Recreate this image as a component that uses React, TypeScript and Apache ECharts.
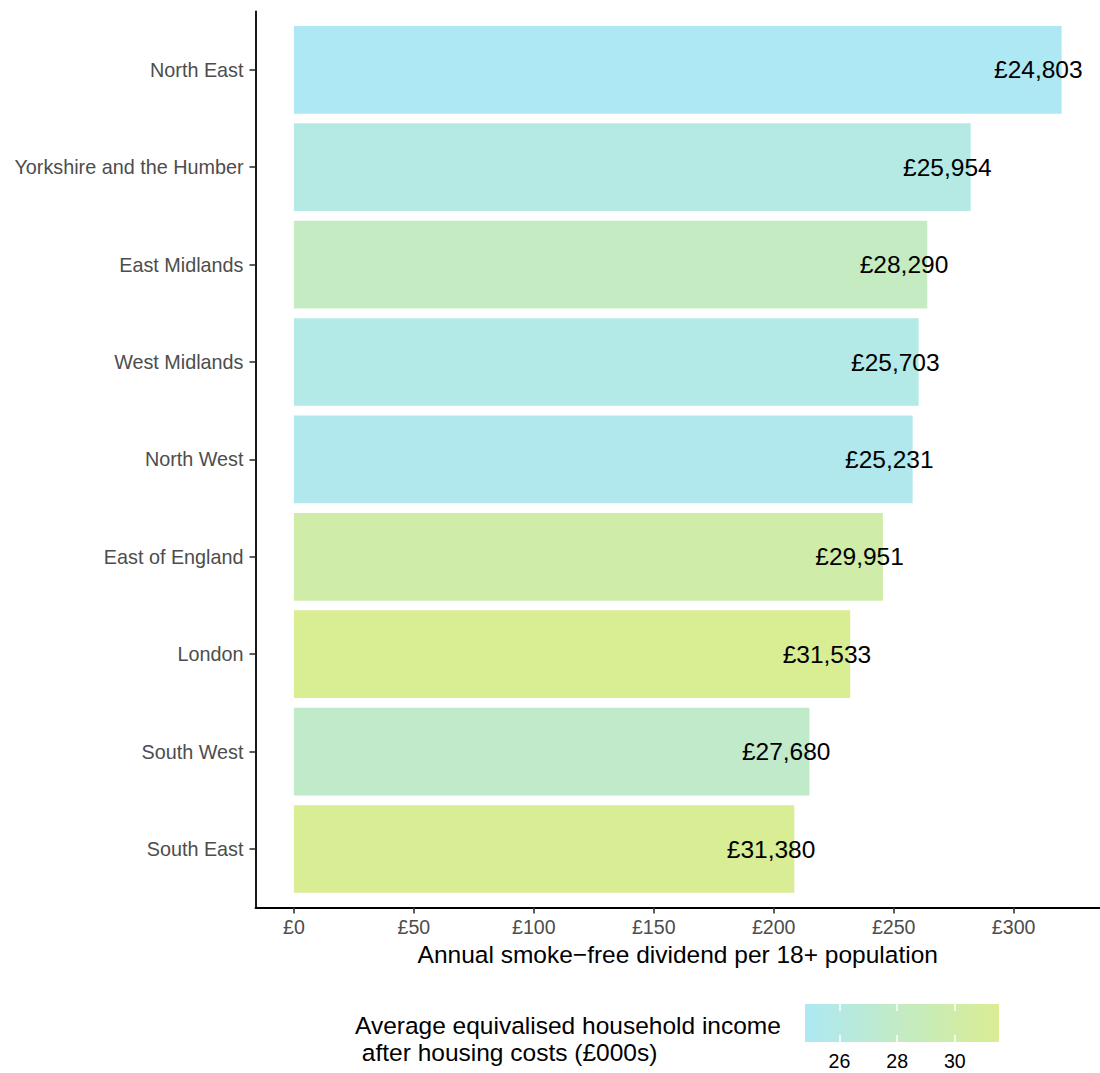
import React, { useEffect, useRef } from "react";
import * as echarts from "echarts";

const regions = [
  "North East",
  "Yorkshire and the Humber",
  "East Midlands",
  "West Midlands",
  "North West",
  "East of England",
  "London",
  "South West",
  "South East",
];
const dividend = [320.0, 282.1, 264.0, 260.4, 257.9, 245.5, 231.9, 214.9, 208.6];
const income = [24803, 25954, 28290, 25703, 25231, 29951, 31533, 27680, 31380];
const xTicks = [0, 50, 100, 150, 200, 250, 300];
const legendTicks = [26, 28, 30];
const lowColor = "#ADE8F4";
const highColor = "#D9ED92";

const FONT = "Liberation Sans, Arial, Helvetica, sans-serif";

function fmtPounds(n: number): string {
  return "£" + String(Math.round(n)).replace(/\B(?=(\d{3})+(?!\d))/g, ",");
}

export default function App() {
  const ref = useRef<HTMLDivElement>(null);
  useEffect(() => {
    if (!ref.current) return;
    const chart = echarts.init(ref.current, undefined, { renderer: "svg" });
    const incMin = Math.min(...income);
    const incMax = Math.max(...income);
    const xMin = -16;
    const xMax = 336;
    const plotLeft = 255.5;
    const plotWidth = 847.5;
    const option: any = {
      animation: false,
      textStyle: { fontFamily: FONT },
      grid: [
        { left: plotLeft, width: plotWidth, top: 21.1, height: 876.6 },
        { left: plotLeft, width: plotWidth, top: 11.4, height: 896 },
        {
          left: 805,
          width: 194,
          top: 1004,
          height: 38,
          show: true,
          borderWidth: 0,
          backgroundColor: {
            type: "linear",
            x: 0,
            y: 0,
            x2: 1,
            y2: 0,
            colorStops: [
              { offset: 0, color: lowColor },
              { offset: 1, color: highColor },
            ],
          },
        },
      ],
      xAxis: [
        { gridIndex: 0, type: "value", min: xMin, max: xMax, show: false },
        {
          gridIndex: 1,
          type: "value",
          min: xMin,
          max: xMax,
          position: "bottom",
          axisLine: { show: true, onZero: false, lineStyle: { color: "#000", width: 1.8 } },
          axisTick: {
            show: true,
            length: 6,
            customValues: xTicks,
            lineStyle: { color: "#333", width: 1.6 },
          },
          axisLabel: {
            customValues: xTicks,
            formatter: (v: number) => "£" + v,
            fontSize: 19.6,
            color: "#4D4D4D",
            margin: 10,
            fontFamily: FONT,
          },
          splitLine: { show: false },
          name: "Annual smoke\u2212free dividend per 18+ population",
          nameLocation: "middle",
          nameGap: 33,
          nameTextStyle: { fontSize: 24.5, color: "#000", fontFamily: FONT },
        },
        {
          gridIndex: 2,
          type: "value",
          min: incMin / 1000,
          max: incMax / 1000,
          position: "bottom",
          axisLine: { show: false, onZero: false },
          axisTick: {
            show: true,
            inside: true,
            length: 7,
            customValues: legendTicks,
            lineStyle: { color: "#fff", width: 1.5 },
          },
          axisLabel: {
            customValues: legendTicks,
            fontSize: 19.6,
            color: "#000",
            margin: 9,
            fontFamily: FONT,
          },
          splitLine: { show: false },
        },
        {
          gridIndex: 2,
          type: "value",
          min: incMin / 1000,
          max: incMax / 1000,
          position: "top",
          axisLine: { show: false, onZero: false },
          axisTick: {
            show: true,
            inside: true,
            length: 7,
            customValues: legendTicks,
            lineStyle: { color: "#fff", width: 1.5 },
          },
          axisLabel: { show: false },
          splitLine: { show: false },
        },
      ],
      yAxis: [
        {
          gridIndex: 0,
          type: "category",
          data: regions,
          inverse: true,
          axisLine: { show: false, onZero: false },
          axisTick: {
            show: true,
            alignWithLabel: true,
            length: 6,
            lineStyle: { color: "#333", width: 1.6 },
          },
          axisLabel: {
            fontSize: 19.8,
            color: "#4D4D4D",
            margin: 12,
            fontFamily: FONT,
          },
        },
        {
          gridIndex: 1,
          type: "value",
          min: 0,
          max: 1,
          axisLine: { show: true, onZero: false, lineStyle: { color: "#000", width: 1.8 } },
          axisTick: { show: false },
          axisLabel: { show: false },
          splitLine: { show: false },
        },
        { gridIndex: 2, type: "value", show: false, min: 0, max: 1 },
      ],
      visualMap: {
        type: "continuous",
        show: false,
        seriesIndex: 0,
        dimension: 2,
        min: incMin,
        max: incMax,
        inRange: { color: [lowColor, highColor] },
      },
      graphic: [
        {
          type: "text",
          left: 355,
          top: 1011.5,
          style: {
            text: "Average equivalised household income\n after housing costs (£000s)",
            fontSize: 24.5,
            lineHeight: 27,
            fill: "#000",
            fontFamily: FONT,
          },
        },
      ],
      series: [
        {
          type: "bar",
          xAxisIndex: 0,
          yAxisIndex: 0,
          barCategoryGap: "10%",
          encode: { x: 0, y: 1 },
          data: regions.map((r, i) => [dividend[i], r, income[i]]),
          label: {
            show: true,
            position: "insideRight",
            distance: 0,
            offset: [21, 0],
            fontSize: 24.5,
            color: "#000",
            fontFamily: FONT,
            formatter: (p: any) => fmtPounds(p.value[2]),
          },
        },
      ],
    };
    chart.setOption(option);
    return () => chart.dispose();
  }, []);
  return (
    <div
      ref={ref}
      style={{ position: "absolute", left: 0, top: 0, width: 1100, height: 1073 }}
    />
  );
}
